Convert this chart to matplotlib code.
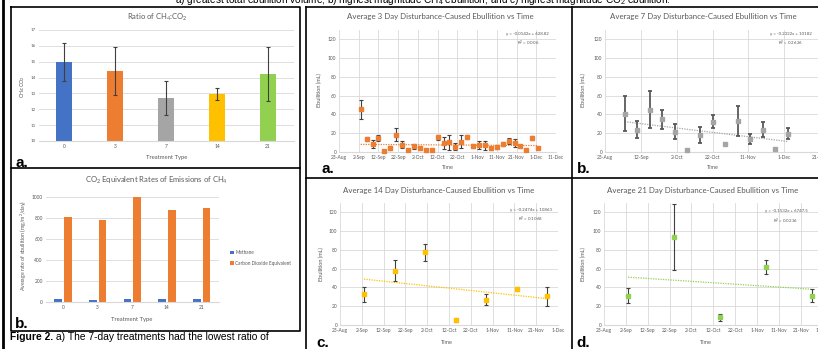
import numpy as np
import matplotlib
matplotlib.use('Agg')
import matplotlib.pyplot as plt
import matplotlib.dates as mdates
from matplotlib.lines import Line2D
from matplotlib.ticker import FuncFormatter

plt.rcParams['font.family'] = ['Lato', 'DejaVu Sans']
plt.rcParams['mathtext.default'] = 'regular'

# ---- data ----
treatments = ['0', '3', '7', '14', '21']
ratio = [14.98, 14.41, 12.71, 12.96, 14.23]
ratio_err = [1.22, 1.5, 1.05, 0.37, 1.7]
ratio_colors = ['#4472C4', '#ED7D31', '#A5A5A5', '#FFC000', '#92D050']

methane = [24, 23, 30, 26, 26]
co2_equiv = [807, 778, 1003, 879, 892]

day3_dates = ['2019-09-03', '2019-09-06', '2019-09-09', '2019-09-12', '2019-09-15',
              '2019-09-18', '2019-09-21', '2019-09-24', '2019-09-27', '2019-09-30',
              '2019-10-03', '2019-10-06', '2019-10-09', '2019-10-12', '2019-10-15',
              '2019-10-18', '2019-10-21', '2019-10-24', '2019-10-27', '2019-10-30',
              '2019-11-02', '2019-11-05', '2019-11-08', '2019-11-11', '2019-11-14',
              '2019-11-17', '2019-11-20', '2019-11-23', '2019-11-26', '2019-11-29',
              '2019-12-02']
day3_vals = [45.3, 14.2, 8.5, 14.9, 1.4, 4.2, 18.4, 7.8, 2.1, 6.0, 3.9, 2.1, 2.1,
             15.9, 9.6, 10.3, 5.7, 11.0, 16.3, 6.4, 7.4, 7.1, 3.9, 5.0, 8.5, 11.7,
             9.6, 6.0, 2.5, 15.2, 3.9]
day3_err = [9.7, 2.1, 4.4, 3.0, 1.0, 2.5, 7.0, 3.7, 1.0, 2.5, 1.0, 1.0, 1.0, 2.6,
            6.0, 8.0, 4.0, 7.0, 2.3, 2.5, 4.4, 5.0, 1.5, 1.5, 2.0, 2.8, 3.9, 1.0,
            1.0, 2.0, 1.0]

day7_dates = ['2019-09-03', '2019-09-10', '2019-09-17', '2019-09-24', '2019-10-01',
              '2019-10-08', '2019-10-15', '2019-10-22', '2019-10-29', '2019-11-05',
              '2019-11-12', '2019-11-19', '2019-11-26', '2019-12-03']
day7_vals = [40.9, 23.7, 44.8, 34.8, 21.5, 1.8, 18.3, 32.3, 8.6, 33.0, 13.6, 23.7, 3.6, 19.4]
day7_err = [19.0, 9.0, 19.7, 10.0, 8.0, 0.8, 8.2, 7.0, 1.0, 15.6, 5.5, 8.0, 1.0, 6.0]

day14_dates = ['2019-09-03', '2019-09-17', '2019-10-01', '2019-10-15', '2019-10-29',
               '2019-11-12', '2019-11-26']
day14_vals = [33.0, 57.9, 77.4, 5.3, 27.0, 38.0, 30.5]
day14_err = [8.0, 11.0, 9.0, 2.5, 5.7, 2.0, 10.3]

day21_dates = ['2019-09-03', '2019-09-24', '2019-10-15', '2019-11-05', '2019-11-26']
day21_vals = [31.2, 93.4, 8.2, 61.8, 31.2]
day21_err = [8.2, 35.3, 3.9, 7.6, 7.1]

# trendline equations as printed on the charts (x = Excel date serial)
trend3 = (-0.0142, 628.82, '0.006')
trend7 = (-0.2322, 10182, '0.2626')
trend14 = (-0.2474, 10863, '0.1068')
trend21 = (-0.1532, 6747.5, '0.0236')

W, H = 818, 349
fig = plt.figure(figsize=(W / 100, H / 100), dpi=100)
TXT = '#595959'
GRID = '#D9D9D9'


def px_axes(l, t, r, b):
    return fig.add_axes([l / W, 1 - b / H, (r - l) / W, (b - t) / H])


def ftext(x, y, s, **kw):
    return fig.text(x / W, 1 - y / H, s, **kw)


def fline(xs, ys, lw=1.0):
    fig.add_artist(Line2D([x / W for x in xs], [1 - y / H for y in ys],
                          lw=lw, color='black', transform=fig.transFigure))


def excel_style(ax):
    for s in ['top', 'right', 'left']:
        ax.spines[s].set_visible(False)
    ax.spines['bottom'].set_color(GRID)
    ax.spines['bottom'].set_linewidth(0.8)
    ax.tick_params(length=0, colors=TXT, labelsize=3.5, pad=2)
    ax.set_axisbelow(True)


def date_fmt(x, pos):
    d = mdates.num2date(x)
    return f"{d.day}-{d:%b}"


# ---- frames ----
fline([2.5, 2.5], [0, 349], lw=2)
fline([11, 300, 300, 11, 11], [7, 7, 331, 331, 7], lw=1.2)
fline([11, 300], [168, 168], lw=1.2)
fline([306, 306], [7, 349], lw=1.2)
fline([306, 818], [7, 7], lw=1.2)
fline([306, 818], [178, 178], lw=1.2)
fline([572, 572], [7, 349], lw=1.2)

# ---- panel a: ratio bars ----
ax = px_axes(38.5, 30, 293.5, 141)
excel_style(ax)
xpos = np.arange(len(treatments))
ax.bar(xpos, ratio, width=0.3, color=ratio_colors, yerr=ratio_err,
       error_kw=dict(ecolor='#404040', capsize=1.5, elinewidth=0.8, capthick=0.8))
ax.set_ylim(10, 17)
ax.set_xlim(-0.5, 4.5)
ax.set_yticks(range(10, 18))
ax.set_xticks(xpos, treatments)
ax.tick_params(axis='y', labelsize=3.2)
ax.grid(axis='y', color=GRID, lw=0.6)
ftext(157, 17, 'Ratio of CH$_4$:CO$_2$', ha='center', va='center', fontsize=5.5, color=TXT)
ftext(23, 87, 'CH$_4$:CO$_2$', ha='center', va='center', rotation=90, fontsize=3.8, color=TXT)
ftext(167, 158, 'Treatment Type', ha='center', va='center', fontsize=4.2, color=TXT)
ftext(15, 167, 'a.', fontsize=11, weight='bold', family='Liberation Sans', va='baseline')

# ---- panel b: CO2 equivalent ----
ax = px_axes(45.5, 197, 219, 302)
excel_style(ax)
xpos = np.arange(len(treatments))
ax.bar(xpos - 0.14, methane, width=0.22, color='#4472C4', label='Methane', clip_on=False)
ax.bar(xpos + 0.14, co2_equiv, width=0.22, color='#ED7D31',
       label='Carbon Dioxide Equivalent', clip_on=False)
ax.set_ylim(0, 1000)
ax.set_xlim(-0.5, 4.5)
ax.set_yticks(range(0, 1001, 200))
ax.set_xticks(xpos, treatments)
ax.grid(axis='y', color=GRID, lw=0.6)
leg = ax.legend(loc='center left', bbox_to_anchor=(226 / W, 1 - 258 / H),
                bbox_transform=fig.transFigure, frameon=False, fontsize=3.4,
                handlelength=0.8, handleheight=0.8, handletextpad=0.3, labelspacing=1.2)
for t in leg.get_texts():
    t.set_color(TXT)
ftext(156, 180, 'CO$_2$ Equivalent Rates of Emissions of CH$_4$', ha='center', va='center',
      fontsize=5.5, color=TXT)
ftext(24, 245, 'Average rate of ebullition (mg/m$^2$/day)', ha='center', va='center',
      rotation=90, fontsize=3.8, color=TXT)
ftext(132, 320, 'Treatment Type', ha='center', va='center', fontsize=4.2, color=TXT)
ftext(15, 328, 'b.', fontsize=11, weight='bold', family='Liberation Sans', va='baseline')


# ---- ebullition panels ----
def ebullition(box, dates, vals, errs, color, trend, tick_start, tick_end, step,
               title, title_xy, ylab_xy, xlab_xy, lab, lab_xy, eq_xy, ms, ecolor, elw):
    ax = px_axes(*box)
    excel_style(ax)
    d = mdates.datestr2num(dates)
    ax.errorbar(d, vals, yerr=errs, fmt='s', color=color, ms=ms, ecolor=ecolor,
                elinewidth=elw, capsize=1.6, capthick=elw, zorder=3, clip_on=False)
    slope, intercept, r2 = trend
    tx = np.array([d[0], d[-1]])
    ax.plot(tx, slope * (tx + 25569) + intercept, ls=(0, (1, 1)), color=color, lw=0.9, zorder=2)
    ticks = np.arange(mdates.datestr2num(tick_start), mdates.datestr2num(tick_end) + 1, step)
    ax.set_xticks(ticks)
    ax.xaxis.set_major_formatter(FuncFormatter(date_fmt))
    ax.set_xlim(ticks[0], ticks[-1])
    ax.set_ylim(0, 130)
    ax.set_yticks(range(0, 121, 20))
    ax.grid(color=GRID, lw=0.6)
    ax.text(eq_xy[0], eq_xy[1], f'y = {slope}x + {intercept}\nR$^2$ = {r2}'.replace('+ -', '- '),
            transform=ax.transAxes, ha='center', va='top', fontsize=3.2, color=TXT,
            linespacing=1.5)
    ftext(*title_xy, title, ha='center', va='center', fontsize=5.7, color=TXT)
    ftext(*ylab_xy, 'Ebullition (mL)', ha='center', va='center', rotation=90,
          fontsize=4.0, color=TXT)
    ftext(*xlab_xy, 'Time', ha='center', va='center', fontsize=4.0, color=TXT)
    ftext(*lab_xy, lab, fontsize=11, weight='bold', family='Liberation Sans', va='baseline')
    return ax


ebullition((339, 30, 556, 152), day3_dates, day3_vals, day3_err, '#ED7D31', trend3,
           '2019-08-23', '2019-12-11', 10,
           'Average 3 Day Disturbance-Caused Ebullition vs Time', (440, 17), (319, 90),
           (448, 168), 'a.', (321, 173), (0.87, 0.985), 3.3, '#404040', 0.8)
ebullition((605, 30, 820, 152), day7_dates, day7_vals, day7_err, '#A5A5A5', trend7,
           '2019-08-23', '2019-12-21', 20,
           'Average 7 Day Disturbance-Caused Ebullition vs Time', (703, 17), (583, 90),
           (713, 168), 'b.', (577, 173), (0.864, 0.985), 2.2, '#595959', 1.3)
ebullition((340, 203, 558, 325), day14_dates, day14_vals, day14_err, '#FFC000', trend14,
           '2019-08-23', '2019-12-01', 10,
           'Average 14 Day Disturbance-Caused Ebullition vs Time', (439, 190), (321, 264),
           (447, 342), 'c.', (316, 347), (0.875, 0.96), 2.4, '#404040', 0.8)
ebullition((604, 203, 822.7, 325), day21_dates, day21_vals, day21_err, '#92D050', trend21,
           '2019-08-23', '2019-12-01', 10,
           'Average 21 Day Disturbance-Caused Ebullition vs Time', (703, 190), (583, 264),
           (706, 342), 'd.', (576, 347), (0.832, 0.95), 2.4, '#404040', 0.8)

# ---- caption text ----
ftext(175, 0, 'a) greatest total ebullition volume, b) highest magnitude CH$_4$ ebullition, '
      'and c) highest magnitude CO$_2$ ebullition.', family='Liberation Sans', fontsize=7.2,
      va='center')
t1 = ftext(10, 337, 'Figure 2.', family='Liberation Sans', fontsize=7.4, weight='bold',
           va='center')
r = fig.canvas.get_renderer()
bb = t1.get_window_extent(r)
ftext(bb.x1 + 3, 337, 'a) The 7-day treatments had the lowest ratio of',
      family='Liberation Sans', fontsize=7.4, va='center')

fig.savefig('out.png', dpi=100)
